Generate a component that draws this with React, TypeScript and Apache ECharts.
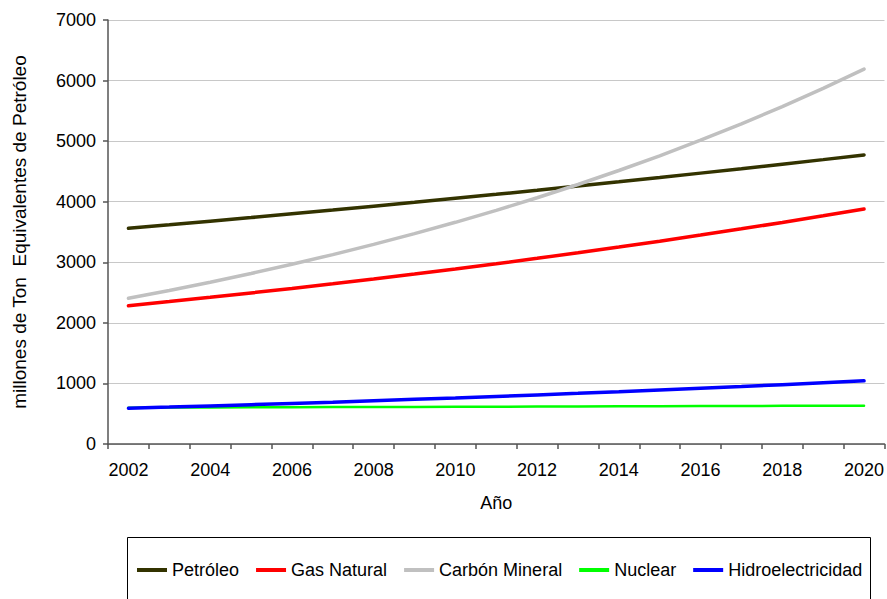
import React, { useEffect, useRef } from "react";
import * as echarts from "echarts";

// Años de la proyección (una categoría por año)
const years: string[] = [
  "2002", "2003", "2004", "2005", "2006", "2007", "2008", "2009", "2010", "2011",
  "2012", "2013", "2014", "2015", "2016", "2017", "2018", "2019", "2020",
];

// Consumo por fuente, millones de toneladas equivalentes de petróleo
const petroleo: number[] = [
  3560, 3618, 3678, 3738, 3800, 3862, 3926, 3990, 4056, 4122,
  4190, 4259, 4328, 4399, 4472, 4545, 4620, 4695, 4772,
];
const gasNatural: number[] = [
  2283, 2351, 2421, 2494, 2568, 2645, 2724, 2806, 2890, 2976,
  3065, 3157, 3251, 3348, 3449, 3552, 3658, 3767, 3880,
];
const carbonMineral: number[] = [
  2405, 2535, 2671, 2815, 2967, 3127, 3295, 3473, 3660, 3857,
  4065, 4284, 4515, 4758, 5015, 5285, 5570, 5870, 6190,
];
const nuclear: number[] = [
  600, 602, 604, 605, 607, 609, 611, 612, 614, 616,
  618, 620, 622, 624, 626, 628, 630, 631, 632,
];
const hidro: number[] = [
  590, 609, 629, 649, 670, 691, 714, 737, 760, 785,
  810, 836, 863, 891, 920, 949, 980, 1011, 1043,
];

const seriesNames: string[] = [
  "Petróleo", "Gas Natural", "Carbón Mineral", "Nuclear", "Hidroelectricidad",
];

const FONT = "Arial, 'Liberation Sans', sans-serif";

export default function App() {
  const ref = useRef<HTMLDivElement>(null);

  useEffect(() => {
    if (!ref.current) return;
    const chart = echarts.init(ref.current, null, { renderer: "svg" });

    const mk = (name: string, data: number[], color: string, width: number) => ({
      name,
      type: "line",
      data,
      symbol: "none",
      smooth: false,
      color,
      lineStyle: { color, width, cap: "round" },
    });

    chart.setOption({
      animation: false,
      backgroundColor: "#ffffff",
      textStyle: { fontFamily: FONT },
      grid: { left: 108, top: 20, right: 0, bottom: 155, containLabel: false },
      xAxis: {
        type: "category",
        data: years,
        boundaryGap: true,
        name: "Año",
        nameLocation: "middle",
        nameGap: 50,
        nameTextStyle: { color: "#000", fontSize: 18, fontFamily: FONT },
        axisLine: { lineStyle: { color: "#555", width: 1.5 } },
        axisTick: { show: true, interval: 0, length: 5, lineStyle: { color: "#555", width: 1.5 } },
        axisLabel: { interval: 1, color: "#000", fontSize: 18, fontFamily: FONT, margin: 17 },
        splitLine: { show: false },
      },
      yAxis: {
        type: "value",
        min: 0,
        max: 7000,
        interval: 1000,
        name: "millones de Ton  Equivalentes de Petróleo",
        nameLocation: "middle",
        nameGap: 79,
        nameTextStyle: { color: "#000", fontSize: 19, fontFamily: FONT },
        axisLine: { show: true, lineStyle: { color: "#555", width: 1.5 } },
        axisTick: { show: true, length: 5, lineStyle: { color: "#555", width: 1.5 } },
        axisLabel: {
          color: "#000",
          fontSize: 18,
          fontFamily: FONT,
          margin: 12,
          formatter: (v: number) => String(v),
        },
        splitLine: { show: true, lineStyle: { color: "#c8c8c8", width: 1 } },
      },
      legend: {
        data: seriesNames.map((n) => ({ name: n, icon: "rect" })),
        left: 137,
        top: 561,
        padding: 0,
        itemWidth: 30,
        itemHeight: 4,
        itemGap: 17,
        textStyle: { color: "#000", fontSize: 18, fontFamily: FONT },
      },
      graphic: [
        {
          type: "rect",
          shape: { x: 127.5, y: 537.5, width: 743, height: 80 },
          style: { fill: "none", stroke: "#000", lineWidth: 1 },
          silent: true,
        },
      ],
      series: [
        mk(seriesNames[0], petroleo, "#333300", 3.5),
        mk(seriesNames[1], gasNatural, "#ff0000", 3.5),
        mk(seriesNames[2], carbonMineral, "#c0c0c0", 3.5),
        mk(seriesNames[3], nuclear, "#00ff00", 2.5),
        mk(seriesNames[4], hidro, "#0000ff", 3.5),
      ],
    });

    return () => chart.dispose();
  }, []);

  return (
    <div
      ref={ref}
      style={{ position: "fixed", left: 0, top: 0, width: 887, height: 599, background: "#fff" }}
    />
  );
}
